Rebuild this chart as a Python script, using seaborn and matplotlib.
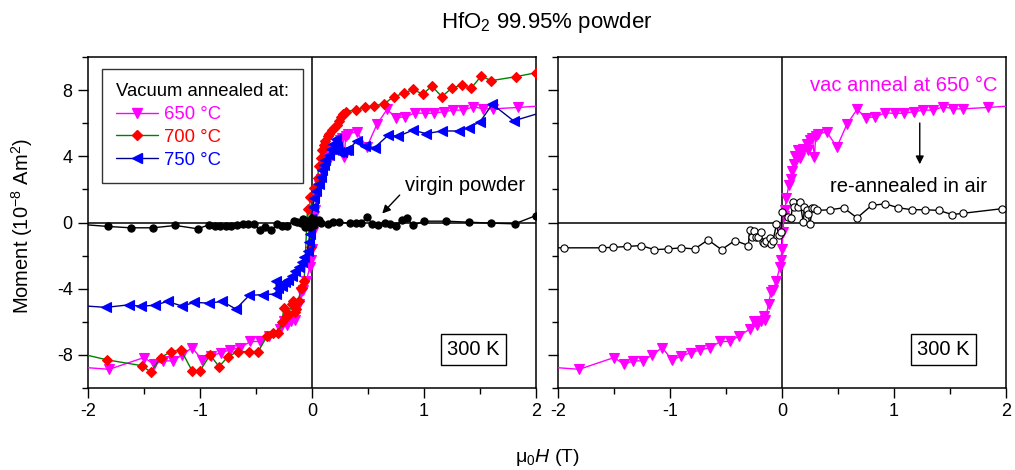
import matplotlib
matplotlib.use("Agg")
import matplotlib.pyplot as plt
import seaborn as sns
import numpy as np
from matplotlib.lines import Line2D
from matplotlib.ticker import MultipleLocator

# ---------------- data ----------------
x650 = [-2.05, -1.81, -1.50, -1.41, -1.33, -1.24, -1.16, -1.07, -0.98, -0.90, -0.81, -0.73,
        -0.64, -0.55, -0.46, -0.38, -0.29, -0.25, -0.22, -0.19, -0.16, -0.15, -0.12, -0.10,
        -0.08, -0.05, -0.02, -0.01, 0.00, 0.01, 0.015, 0.025, 0.04, 0.06, 0.08, 0.09, 0.11,
        0.12, 0.14, 0.16, 0.17, 0.19, 0.22, 0.23, 0.25, 0.27, 0.29, 0.30, 0.32, 0.40, 0.49,
        0.58, 0.67, 0.75, 0.83, 0.92, 1.01, 1.09, 1.18, 1.26, 1.35, 1.44, 1.53, 1.62, 1.84, 2.05]
y650 = [-8.75, -8.87, -8.16, -8.57, -8.36, -8.36, -8.00, -7.56, -8.32, -8.06, -7.86, -7.70,
        -7.56, -7.19, -7.19, -6.83, -6.46, -5.94, -6.18, -5.98, -5.64, -5.90, -4.93, -4.22,
        -4.08, -3.52, -2.71, -2.26, -1.60, -0.59, 0.42, 0.73, 1.47, 2.24, 2.65, 3.11, 3.56,
        4.00, 4.36, 3.92, 4.16, 4.47, 4.73, 4.36, 5.01, 5.13, 3.96, 5.21, 5.37, 5.47, 4.56,
        5.94, 6.83, 6.34, 6.38, 6.62, 6.60, 6.60, 6.70, 6.79, 6.79, 6.99, 6.87, 6.87, 6.95, 7.05]

x700 = [-2.05, -1.83, -1.52, -1.44, -1.35, -1.26, -1.17, -1.07, -1.00, -0.91, -0.83, -0.75,
        -0.66, -0.56, -0.48, -0.40, -0.35, -0.30, -0.27, -0.25, -0.23, -0.22, -0.21, -0.18,
        -0.17, -0.15, -0.14, -0.12, -0.10, -0.09, -0.07, -0.04, -0.03, -0.01, -0.02, 0.02,
        0.05, 0.06, 0.08, 0.09, 0.11, 0.12, 0.14, 0.15, 0.18, 0.20, 0.22, 0.24, 0.26, 0.28,
        0.30, 0.39, 0.47, 0.55, 0.64, 0.73, 0.82, 0.90, 0.99, 1.07, 1.16, 1.25, 1.34, 1.42,
        1.51, 1.60, 1.82, 2.00]
y700 = [-7.95, -8.30, -8.65, -9.03, -8.16, -7.80, -7.70, -8.97, -8.97, -8.00, -8.71, -8.10,
        -7.80, -7.80, -7.80, -6.85, -6.65, -6.65, -6.04, -5.17, -5.74, -5.64, -5.53, -4.93,
        -4.73, -5.43, -5.24, -4.73, -3.96, -3.96, -3.52, 0.83, -0.28, -1.50, 1.53, 2.10,
        2.71, 3.39, 3.92, 4.36, 4.67, 4.93, 5.21, 5.37, 5.58, 5.68, 5.88, 6.14, 6.38, 6.55,
        6.69, 6.81, 6.95, 7.06, 7.15, 7.60, 7.80, 8.04, 7.76, 8.24, 7.60, 8.14, 8.30, 8.10,
        8.85, 8.57, 8.81, 9.05]

x750 = [-2.05, -1.84, -1.63, -1.53, -1.40, -1.29, -1.16, -1.05, -0.92, -0.80, -0.68, -0.56,
        -0.44, -0.32, -0.32, -0.30, -0.27, -0.24, -0.21, -0.18, -0.15, -0.12, -0.09, -0.07,
        -0.04, -0.03, -0.02, -0.01, 0.01, 0.02, 0.04, 0.06, 0.08, 0.09, 0.11, 0.12, 0.15,
        0.17, 0.19, 0.21, 0.22, 0.24, 0.27, 0.30, 0.32, 0.40, 0.47, 0.56, 0.68, 0.77, 0.90,
        1.02, 1.16, 1.31, 1.40, 1.50, 1.61, 1.80, 2.05]
y750 = [-5.03, -5.13, -4.97, -5.07, -4.99, -4.77, -5.05, -4.83, -4.87, -4.77, -5.23, -4.40,
        -4.36, -4.32, -3.56, -3.96, -3.82, -3.62, -3.45, -3.21, -2.95, -2.71, -2.40, -2.10,
        -1.70, -1.19, -0.69, 0.22, 0.93, 1.49, 1.90, 2.34, 2.75, 3.15, 3.45, 3.76, 4.06,
        4.47, 4.77, 5.07, 4.56, 4.26, 4.26, 4.36, 4.36, 4.93, 4.61, 4.53, 5.27, 5.21, 5.58,
        5.37, 5.53, 5.53, 5.74, 6.08, 7.15, 6.14, 6.65]

x_virgin = [-2.05, -1.82, -1.62, -1.42, -1.22, -1.02, -0.92, -0.87, -0.82, -0.77, -0.72,
            -0.67, -0.62, -0.57, -0.52, -0.46, -0.42, -0.37, -0.31, -0.27, -0.22, -0.16,
            -0.13, -0.10, -0.08, -0.06, -0.04, -0.02, 0.00, 0.02, 0.04, 0.06, 0.08, 0.14,
            0.19, 0.24, 0.34, 0.39, 0.44, 0.49, 0.54, 0.59, 0.65, 0.70, 0.75, 0.80, 0.85,
            0.90, 1.00, 1.20, 1.40, 1.60, 1.81, 2.00]
y_virgin = [-0.12, -0.24, -0.32, -0.32, -0.18, -0.38, -0.14, -0.24, -0.24, -0.24, -0.24,
            -0.18, -0.12, -0.12, -0.12, -0.48, -0.28, -0.48, -0.12, -0.24, -0.24, 0.12,
            0.02, -0.05, 0.20, -0.25, 0.10, -0.30, 0.25, -0.15, 0.16, 0.14, -0.05, -0.08,
            0.02, 0.02, -0.04, -0.04, -0.04, 0.32, -0.08, -0.18, -0.02, -0.12, -0.24, 0.18,
            0.28, -0.18, 0.08, 0.08, 0.02, -0.04, -0.08, 0.42]

x_air = [-2.05, -1.95, -1.61, -1.51, -1.38, -1.26, -1.14, -1.02, -0.90, -0.78, -0.66, -0.54,
         -0.42, -0.30, -0.29, -0.27, -0.25, -0.23, -0.21, -0.19, -0.17, -0.16, -0.14, -0.11,
         -0.10, -0.08, -0.05, -0.03, -0.01, 0.00, 0.05, 0.08, 0.10, 0.11, 0.14, 0.16, 0.19,
         0.20, 0.22, 0.23, 0.25, 0.27, 0.29, 0.31, 0.43, 0.55, 0.67, 0.80, 0.92, 1.04, 1.16,
         1.28, 1.40, 1.52, 1.62, 1.96, 2.05]
y_air = [-1.53, -1.53, -1.53, -1.50, -1.45, -1.39, -1.64, -1.60, -1.53, -1.60, -1.05, -1.64,
         -1.09, -1.39, -0.48, -0.89, -0.52, -0.85, -0.85, -0.56, -1.19, -1.25, -1.10, -0.93,
         -1.31, -1.10, -0.12, -0.73, -0.55, 0.62, 0.32, 0.30, 1.23, 0.93, 0.93, 1.23, 0.02,
         0.93, 0.73, 0.53, -0.12, 0.89, 0.85, 0.73, 0.77, 0.89, 0.28, 1.03, 1.13, 0.89, 0.77,
         0.77, 0.73, 0.48, 0.56, 0.83, 0.84]

legend_labels = ["650 \u00b0C", "700 \u00b0C", "750 \u00b0C"]
xticks = [-2, -1, 0, 1, 2]
yticks = [-8, -4, 0, 4, 8]

# ---------------- style ----------------
sns.set_theme(style="ticks")
plt.rcParams["font.family"] = ["Liberation Sans", "DejaVu Sans"]
plt.rcParams["text.color"] = "black"
plt.rcParams["axes.labelcolor"] = "black"
plt.rcParams["xtick.color"] = "black"
plt.rcParams["ytick.color"] = "black"
plt.rcParams["mathtext.fontset"] = "custom"
plt.rcParams["mathtext.rm"] = "Liberation Sans"
plt.rcParams["mathtext.it"] = "Liberation Sans:italic"
plt.rcParams["mathtext.default"] = "regular"

MAG = "#ff00ff"
RED = "#ff0000"
GRN = "#008000"
BLU = "#0000ff"
NAVY = "#00008b"

fig = plt.figure(figsize=(10.15, 4.70), dpi=100)
axL = fig.add_axes([88 / 1015, 1 - 388 / 470, 448 / 1015, 331 / 470])
axR = fig.add_axes([558 / 1015, 1 - 388 / 470, 448 / 1015, 331 / 470])

ms = 6.6
lw = 1.0


def draw(ax, x, y, color, marker, mfc, mec, size=ms, z=2):
    sns.lineplot(x=x, y=y, ax=ax, sort=False, estimator=None, color=color, marker=marker,
                 markersize=size, markerfacecolor=mfc, markeredgecolor=mec,
                 markeredgewidth=0.8, linewidth=lw, zorder=z, legend=False)


# left panel
draw(axL, x650, y650, MAG, "v", MAG, MAG, z=3)
draw(axL, x700, y700, GRN, "D", RED, RED, size=5.6, z=4)
draw(axL, x750, y750, NAVY, "<", BLU, BLU, z=5)
draw(axL, x_virgin, y_virgin, "black", "o", "black", "black", size=5.2, z=6)

# right panel
draw(axR, x650, y650, MAG, "v", MAG, MAG, z=3)
draw(axR, x_air, y_air, "black", "o", "white", "black", size=5.2, z=4)

for ax in (axL, axR):
    ax.axhline(0, color="black", lw=1.1, zorder=1)
    ax.axvline(0, color="black", lw=1.1, zorder=1)
    ax.set_xlim(-2, 2)
    ax.set_ylim(-10, 10)
    ax.set_xticks(xticks)
    ax.set_yticks(yticks)
    ax.xaxis.set_minor_locator(MultipleLocator(0.5))
    ax.yaxis.set_minor_locator(MultipleLocator(2))
    ax.tick_params(which="major", direction="out", length=7, width=1, labelsize=13,
                   colors="black", pad=4)
    ax.tick_params(which="minor", direction="out", length=4, width=1, colors="black")
    for s in ax.spines.values():
        s.set_visible(True)
        s.set_color("black")
        s.set_linewidth(1.1)
    ax.set_xlabel("")
    ax.set_ylabel("")
    ax.grid(False)
    ax.text(0.86, 0.115, "300 K", transform=ax.transAxes, ha="center", va="center",
            fontsize=14.5, color="black",
            bbox=dict(boxstyle="square,pad=0.3", fc="white", ec="black", lw=1))

axR.set_yticklabels([])
axL.set_xticklabels(["-2", "-1", "0", "1", "2"])
axR.set_xticklabels(["-2", "-1", "0", "1", "2"])
axL.set_yticklabels(["-8", "-4", "0", "4", "8"])

# legend
handles = [
    Line2D([], [], color=MAG, marker="v", markersize=ms, mfc=MAG, mec=MAG, lw=lw),
    Line2D([], [], color=GRN, marker="D", markersize=5.6, mfc=RED, mec=RED, lw=lw),
    Line2D([], [], color=NAVY, marker="<", markersize=ms, mfc=BLU, mec=BLU, lw=lw),
]
leg = axL.legend(handles, legend_labels, title="Vacuum annealed at:", loc="upper left",
                 bbox_to_anchor=(0.031, 0.963), borderaxespad=0, frameon=True,
                 fancybox=False, edgecolor="black", fontsize=13.3, title_fontsize=13.3,
                 labelcolor=[MAG, RED, BLU], handlelength=2.3, handletextpad=0.3,
                 labelspacing=0.32, borderpad=0.75, alignment="left")
leg.get_frame().set_linewidth(1.0)
leg.get_title().set_color("black")
leg.set_zorder(10)

# annotations
axL.text(0.83, 2.24, "virgin powder", fontsize=14.5, ha="left", va="center", color="black")
axL.annotate("", xy=(0.61, 0.42), xytext=(0.80, 1.78),
             arrowprops=dict(arrowstyle="-|>", color="black", lw=1, mutation_scale=12))
axR.text(1.92, 8.25, "vac anneal at 650 \u00b0C", fontsize=14.5, ha="right", va="center",
         color=MAG)
axR.annotate("", xy=(1.23, 3.35), xytext=(1.23, 6.18),
             arrowprops=dict(arrowstyle="-|>", color="black", lw=1, mutation_scale=12))
axR.text(1.13, 2.2, "re-annealed in air", fontsize=14.5, ha="center", va="center",
         color="black")

fig.text(0.539, 0.953, "HfO$_2$ 99.95% powder", ha="center", va="center", fontsize=16,
         color="black")
fig.text(0.539, 0.026, "\u03bc$_0$$\\it{H}$ (T)", ha="center", va="center", fontsize=14,
         color="black")
fig.text(0.022, 0.52, "Moment (10$^{-8}$ Am$^2$)", ha="center", va="center",
         rotation=90, fontsize=14.5, color="black")

fig.savefig("out.png", dpi=100)
